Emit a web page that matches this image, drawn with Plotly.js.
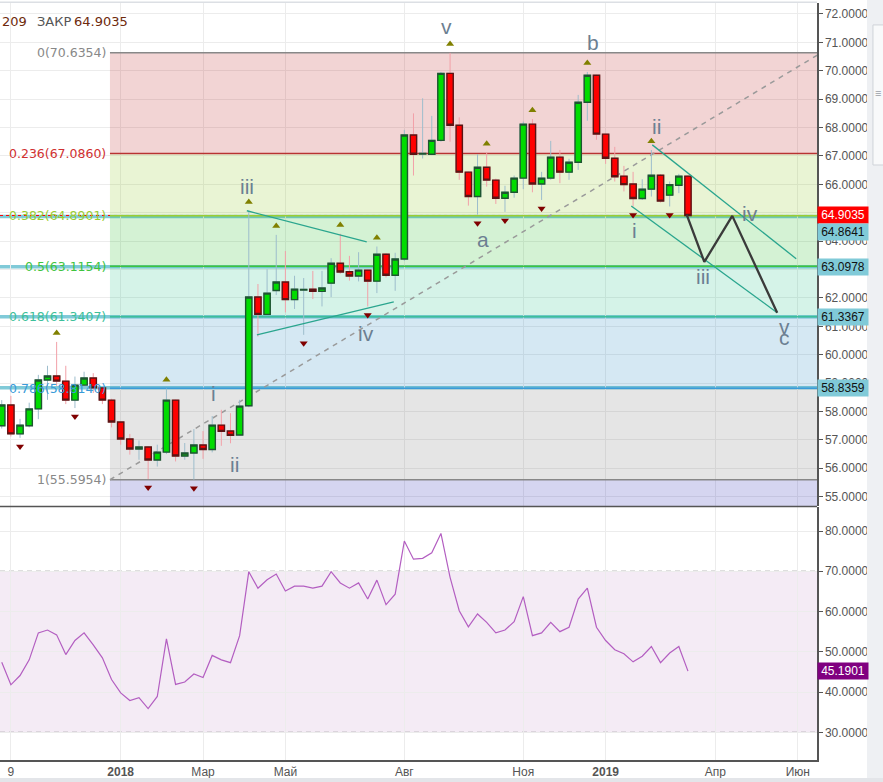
<!DOCTYPE html>
<html><head><meta charset="utf-8">
<script src="https://cdn.plot.ly/plotly-3.0.1.min.js"></script>
<style>html,body{margin:0;padding:0;background:#fff;overflow:hidden}#chart{width:883px;height:782px}</style>
</head><body><div id="chart"></div>
<script>
// weekly bars
const dates = ['2017-10-02','2017-10-09','2017-10-16','2017-10-23','2017-10-30','2017-11-06','2017-11-13','2017-11-20','2017-11-27','2017-12-04','2017-12-11','2017-12-18','2017-12-25',
'2018-01-01','2018-01-08','2018-01-15','2018-01-22','2018-01-29','2018-02-05','2018-02-12','2018-02-19','2018-02-26','2018-03-05','2018-03-12','2018-03-19','2018-03-26','2018-04-02',
'2018-04-09','2018-04-16','2018-04-23','2018-04-30','2018-05-07','2018-05-14','2018-05-21','2018-05-28','2018-06-04','2018-06-11','2018-06-18','2018-06-25','2018-07-02','2018-07-09','2018-07-16','2018-07-23','2018-07-30',
'2018-08-06','2018-08-13','2018-08-20','2018-08-27','2018-09-03',
'2018-09-10','2018-09-17','2018-09-24','2018-10-01','2018-10-08','2018-10-15','2018-10-22','2018-10-29','2018-11-05','2018-11-12','2018-11-19','2018-11-26','2018-12-03','2018-12-10','2018-12-17','2018-12-24','2018-12-31',
'2019-01-07','2019-01-14','2019-01-21','2019-01-28','2019-02-04','2019-02-11','2019-02-18','2019-02-25','2019-03-04','2019-03-11'];
const openP  = [57.50,58.23,57.21,57.50,58.09,59.11,59.25,59.07,58.40,58.93,59.18,58.83,58.40,
57.63,57.03,56.68,56.75,56.29,56.57,58.40,56.43,56.54,56.82,56.66,57.52,57.31,57.17,
58.20,62.03,61.42,62.26,62.56,61.94,62.28,62.31,62.23,62.52,63.22,62.92,62.77,62.98,62.59,63.54,62.80,
63.37,67.74,67.07,67.06,67.55,
69.91,68.08,66.43,65.57,66.60,66.15,65.51,65.72,66.22,68.12,66.01,66.22,66.96,66.43,66.78,68.89,69.84,
67.77,66.92,66.29,66.01,65.50,65.83,66.32,65.62,65.97,66.29];
const highP  = [58.40,58.55,57.74,58.31,59.29,59.61,60.45,59.61,59.23,59.40,59.35,58.85,58.45,
57.65,57.21,56.98,56.78,56.83,58.81,58.42,56.89,57.38,57.31,57.84,58.06,57.94,58.41,
65.07,62.49,63.01,64.22,63.65,62.78,62.70,62.95,62.95,63.40,64.26,63.48,63.61,63.00,63.81,63.58,63.59,
67.92,68.50,69.03,68.41,69.96,
70.63,68.36,66.45,67.06,67.12,66.20,65.95,66.31,68.21,68.30,66.44,67.53,67.21,66.90,69.15,69.96,69.86,
67.80,67.32,66.65,66.44,66.18,67.21,66.36,66.10,66.37,66.30];
const lowP   = [57.40,57.12,57.07,57.44,57.73,58.41,58.90,58.26,58.12,58.84,58.65,58.26,57.44,
56.83,56.48,56.30,55.62,56.06,56.50,56.24,56.30,55.60,56.33,56.56,56.79,56.88,57.15,
58.15,60.64,61.40,62.10,61.49,61.61,60.70,61.96,61.70,62.03,62.85,62.61,62.58,61.70,62.17,62.72,62.25,
63.30,66.31,66.91,67.03,67.50,
67.50,66.16,65.25,64.93,65.92,65.31,65.03,65.53,65.83,65.72,65.45,66.16,66.04,66.16,66.51,68.24,67.57,
66.72,66.10,65.75,65.22,65.45,65.57,65.36,65.22,65.69,64.90];
const closeP = [58.23,57.21,57.52,58.09,59.11,59.25,59.07,58.40,58.93,59.18,58.83,58.40,57.63,
57.03,56.68,56.75,56.29,56.57,58.40,56.43,56.54,56.82,56.66,57.52,57.30,57.16,58.19,
62.03,61.42,62.17,62.56,61.94,62.31,62.30,62.23,62.35,63.22,62.91,62.77,62.98,62.59,63.54,62.80,63.37,
67.74,67.06,67.09,67.55,69.91,
68.08,66.43,65.57,66.60,66.15,65.51,65.72,66.22,68.12,66.01,66.22,66.96,66.43,66.78,68.89,69.84,67.77,
66.92,66.27,65.99,65.50,65.83,66.32,65.41,65.99,66.29,64.9035];
const rsi = [47.4,41.8,44.1,48.0,54.7,55.4,54.2,49.3,52.8,54.7,51.7,48.5,43.1,
39.8,37.9,38.6,35.9,38.9,53.2,41.9,42.5,44.5,43.6,49.1,48.0,47.3,54.0,
69.9,65.8,67.9,69.3,65.1,66.3,66.3,65.8,66.3,69.9,67.1,65.8,67.1,63.1,67.8,61.7,64.3,
77.5,73.0,73.2,74.6,79.4,
68.5,60.2,56.2,59.4,57.3,54.7,55.4,57.5,63.7,54.0,54.7,57.3,55.0,56.1,63.1,65.8,56.1,
52.8,50.5,49.5,47.5,48.9,51.3,47.3,49.7,51.3,45.1901];
// fractal markers (indices into dates)
const upIdx = [6,18,27,30,37,41,49,53,58,64,71];
const downIdx = [2,8,16,21,33,40,52,55,59,69,73];
// fibonacci retracement
const fibRatios = ['0','0.236','0.382','0.5','0.618','0.786','1'];
const fibPrices = [70.6354,67.0860,64.8901,63.1154,61.3407,58.8140,55.5954];
const fibLineColors = ['#888888','#b83232','#9acd32','#3fc43f','#3dbf9a','#3a9bd9','#888888'];
const fibLabelColors = ['#888888','#d03030','#9acd32','#3fc43f','#3dbf9a','#3a9bd9','#888888'];
const fibZoneColors = ['rgba(190,40,40,0.2)','rgba(145,200,40,0.2)','rgba(40,190,40,0.2)','rgba(45,195,140,0.2)','rgba(45,140,195,0.2)','rgba(125,125,125,0.2)','rgba(45,45,180,0.2)'];
const fibStart = '2017-12-23 19:00';
const fibTrend = {x:['2017-12-23 19:00','2019-06-21 00:00'], y:[55.5954,70.6354]};
// horizontal levels
const hLevels = [64.8641,63.0978,61.3367,58.8359];
const hLabelShift = [-15,0,0,0];
const lastClose = 64.9035;
const lastRsi = 45.1901;
// drawings
const trendLines = [
 {x:['2018-04-07 12:00','2018-07-08 05:00'], y:[65.07,63.97]},
 {x:['2018-04-15 05:00','2018-07-28 22:00'], y:[60.70,61.86]},
 {x:['2019-02-11 17:00','2019-06-01 19:00'], y:[67.39,63.38]},
 {x:['2019-01-26 14:00','2019-05-18 06:00'], y:[65.24,61.48]}
];
const projPath = {x:['2019-03-10 00:00','2019-03-23 12:00','2019-04-13 21:00','2019-05-18 06:00'], y:[64.93,63.27,64.89,61.48]};
const waveLabels = [
 ['iii','2018-04-07 12:00',65.94],['iv','2018-07-07 12:00',60.76],['v','2018-09-07 09:00',71.55],
 ['a','2018-10-04 21:00',64.04],['b','2018-12-28 17:00',71.01],['i','2018-03-13 07:00',58.62],
 ['ii','2018-03-29 07:00',56.15],['ii','2019-02-14 21:00',68.02],['i','2019-01-29 02:00',64.39],
 ['iii','2019-03-22 19:00',62.77],['iv','2019-04-27 17:00',64.99],['v','2019-05-23 14:00',61.01],
 ['c','2019-05-23 14:00',60.59]
];
const xTickVals = ['2017-10-09','2018-01-01','2018-03-05','2018-05-07','2018-08-06','2018-11-05','2019-01-07','2019-04-01','2019-06-03'];
const xTickText = ['9','<b>2018</b>','Мар','Май','Авг','Ноя','<b>2019</b>','Апр','Июн'];
const priceTicks = [55,56,57,58,59,60,61,62,63,64,65,66,67,68,69,70,71,72];
const rsiTicks = [30,40,50,60,70,80];

const bodyHigh = openP.map((o,i)=>Math.max(o,closeP[i]));
const bodyLow = openP.map((o,i)=>Math.min(o,closeP[i]));
const traces = [
 {type:'candlestick', x:dates, open:openP, high:highP, low:lowP, close:closeP, xaxis:'x', yaxis:'y',
  increasing:{line:{color:'#9dbdcc',width:1},fillcolor:'#00dc00'}, decreasing:{line:{color:'#f2a0a8',width:1},fillcolor:'#ff0000'},
  whiskerwidth:0, hoverinfo:'skip'},
 {type:'candlestick', x:dates, open:openP, high:bodyHigh, low:bodyLow, close:closeP, xaxis:'x', yaxis:'y',
  increasing:{line:{color:'#1e5530',width:1.4},fillcolor:'#00dc00'}, decreasing:{line:{color:'#5a1414',width:1.4},fillcolor:'#ff0000'},
  whiskerwidth:0, hoverinfo:'skip'},
 {type:'scatter', mode:'markers', x:upIdx.map(i=>dates[i]), y:upIdx.map(i=>highP[i]+0.31), xaxis:'x', yaxis:'y',
  marker:{symbol:'triangle-up', size:7, color:'#808000'}, hoverinfo:'skip'},
 {type:'scatter', mode:'markers', x:downIdx.map(i=>dates[i]), y:downIdx.map(i=>lowP[i]-0.30), xaxis:'x', yaxis:'y',
  marker:{symbol:'triangle-down', size:7, color:'#800000'}, hoverinfo:'skip'},
 {type:'scatter', mode:'lines', x:dates, y:rsi, xaxis:'x', yaxis:'y2', line:{color:'#b35ec1', width:1.2}, hoverinfo:'skip'}
];
trendLines.forEach(t=>traces.push({type:'scatter',mode:'lines',x:t.x,y:t.y,xaxis:'x',yaxis:'y',line:{color:'#2aa58e',width:1.3},hoverinfo:'skip'}));
traces.push({type:'scatter',mode:'lines',x:projPath.x,y:projPath.y,xaxis:'x',yaxis:'y',line:{color:'#3a3a3a',width:2.3},hoverinfo:'skip'});

const farRight = '2019-12-31';
const shapes = [];
// rsi band
shapes.push({type:'rect',xref:'paper',x0:0,x1:1,yref:'y2',y0:30,y1:70,fillcolor:'rgba(150,60,160,0.1)',line:{width:0},layer:'between'});
[30,70].forEach(v=>shapes.push({type:'line',xref:'paper',x0:0,x1:1,yref:'y2',y0:v,y1:v,line:{color:'#787878',width:1,dash:'5px,4px'},layer:'between'}));
// fib zones
for(let i=0;i<fibPrices.length;i++){
  const y1 = i<fibPrices.length-1 ? fibPrices[i+1] : 40;
  shapes.push({type:'rect',xref:'x',x0:fibStart,x1:farRight,yref:'y',y0:fibPrices[i],y1:y1,fillcolor:fibZoneColors[i],line:{width:0},layer:'between'});
}
// horizontal user lines
hLevels.forEach(v=>shapes.push({type:'line',xref:'paper',x0:0,x1:1,yref:'y',y0:v,y1:v,line:{color:'#80cad8',width:3.5},layer:'between'}));
// fib lines
fibPrices.forEach((p,i)=>shapes.push({type:'line',xref:'x',x0:fibStart,x1:farRight,yref:'y',y0:p,y1:p,line:{color:fibLineColors[i],width:1.5},layer:'between'}));
// last price line
shapes.push({type:'line',xref:'paper',x0:0,x1:1,yref:'y',y0:lastClose,y1:lastClose,line:{color:'#ff0000',width:1,dash:'dot'},layer:'between'});
// fib trend dashed
shapes.push({type:'line',xref:'x',yref:'y',x0:fibTrend.x[0],x1:fibTrend.x[1],y0:fibTrend.y[0],y1:fibTrend.y[1],line:{color:'#9a9a9a',width:1.5,dash:'5px,5px'},layer:'between'});
// pane separator and borders
shapes.push({type:'line',xref:'paper',yref:'paper',x0:0,x1:1,y0:0.3349,y1:0.3349,line:{color:'#555',width:1.5}});
shapes.push({type:'line',xref:'paper',yref:'paper',x0:0,x1:1,y0:1.001,y1:1.001,line:{color:'#dcdfe4',width:1.5}});
// right side panel and bottom strip
shapes.push({type:'rect',xref:'paper',yref:'paper',x0:1.0612,x1:1.1,y0:-0.04,y1:1.01,fillcolor:'#eef0f3',line:{width:0}});
shapes.push({type:'rect',xref:'paper',yref:'paper',x0:1.0685,x1:1.1,y0:0.786,y1:0.971,fillcolor:'#f8f9fa',line:{color:'#cfd3d8',width:1}});
shapes.push({type:'rect',xref:'paper',yref:'paper',x0:-0.01,x1:1.1,y0:-0.04,y1:-0.0238,fillcolor:'#e3e5e9',line:{width:0}});

const annotations = [];
fibPrices.forEach((p,i)=>annotations.push({xref:'x',yref:'y',x:fibStart,y:p,xanchor:'right',yanchor:'middle',xshift:-2,showarrow:false,
  text:fibRatios[i]+'('+p.toFixed(4)+')',font:{family:'DejaVu Sans',size:12.5,color:fibLabelColors[i]}}));
waveLabels.forEach(w=>annotations.push({xref:'x',yref:'y',x:w[1],y:w[2],xanchor:'center',yanchor:'middle',showarrow:false,text:w[0],
  font:{family:'Liberation Sans',size:21,color:'#6c7f92'}}));
function priceTag(v, yref, bg, fg, shift){
  return {xref:'paper',x:1,xanchor:'left',yref:yref,y:v,yanchor:'middle',yshift:shift||0,showarrow:false,text:v.toFixed(4),
    bgcolor:bg,font:{family:'Liberation Sans',size:12,color:fg},width:46,height:12,borderpad:2,align:'center'};
}
annotations.push(priceTag(lastClose,'y','#ff0000','#ffffff',0));
hLevels.forEach((v,i)=>annotations.push(priceTag(v,'y','#80cad8','#111111',hLabelShift[i])));
annotations.push(priceTag(lastRsi,'y2','#800080','#ffffff',0));
// header text
annotations.push({xref:'paper',yref:'paper',x:0.0,y:0.976,xanchor:'left',yanchor:'middle',showarrow:false,text:'209',font:{family:'DejaVu Sans',size:13,color:'#6e2a0c'}});
annotations.push({xref:'paper',yref:'paper',x:0.043,y:0.976,xanchor:'left',yanchor:'middle',showarrow:false,text:'ЗАКР',font:{family:'DejaVu Sans',size:13,color:'#555555'}});
annotations.push({xref:'paper',yref:'paper',x:0.0885,y:0.976,xanchor:'left',yanchor:'middle',showarrow:false,text:'64.9035',font:{family:'DejaVu Sans',size:13,color:'#6e2a0c'}});
annotations.push({xref:'paper',yref:'paper',x:1.0747,y:0.881,xanchor:'center',yanchor:'middle',showarrow:false,text:'≡',font:{size:11,color:'#9aa0a8'}});

const layout = {
  width:883, height:782, margin:{l:0,r:66,t:3,b:22,pad:0},
  paper_bgcolor:'#ffffff', plot_bgcolor:'#ffffff', showlegend:false,
  font:{family:'Liberation Sans, Arial, sans-serif', size:12, color:'#555555'},
  boxgap:0.31, boxgroupgap:0, boxmode:'overlay',
  xaxis:{type:'date', anchor:'y2', range:['2017-09-30 16:00','2019-06-17 17:00'], tickvals:xTickVals, ticktext:xTickText,
    showgrid:true, gridcolor:'#ececec', gridwidth:1, showline:true, linecolor:'#555555', linewidth:1.5, ticks:'', zeroline:false,
    tickfont:{size:12,color:'#555555'}, rangeslider:{visible:false}, fixedrange:true},
  yaxis:{domain:[0.3355,1], anchor:'x', side:'right', range:[54.670,72.387], tickvals:priceTicks, tickformat:'.4f',
    showgrid:true, gridcolor:'#ececec', showline:true, linecolor:'#555555', linewidth:1.5, ticks:'outside', ticklen:4, tickcolor:'#555555',
    zeroline:false, tickfont:{size:12,color:'#555555'}},
  yaxis2:{domain:[0,0.3342], anchor:'x', side:'right', range:[23.12,85.96], tickvals:rsiTicks, tickformat:'.4f',
    showgrid:true, gridcolor:'#ececec', showline:true, linecolor:'#555555', linewidth:1.5, ticks:'outside', ticklen:4, tickcolor:'#555555',
    zeroline:false, tickfont:{size:12,color:'#555555'}},
  shapes:shapes, annotations:annotations
};
Plotly.newPlot('chart', traces, layout, {staticPlot:true, displayModeBar:false});
</script></body></html>
